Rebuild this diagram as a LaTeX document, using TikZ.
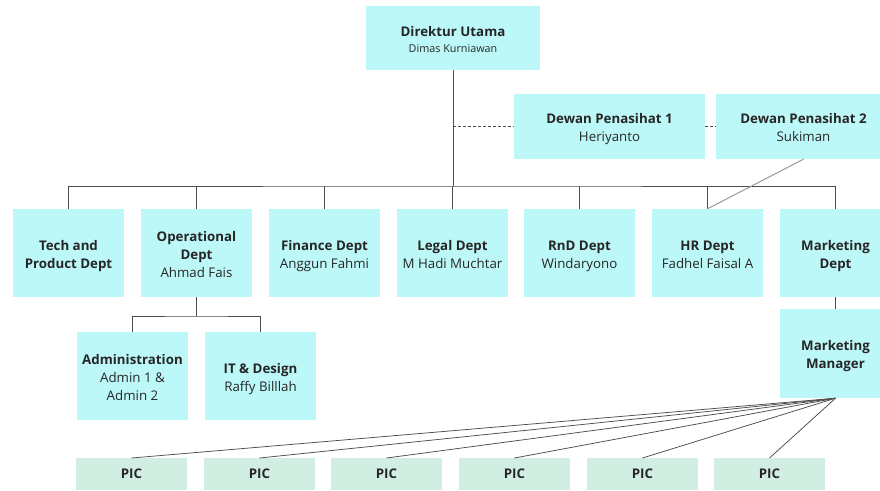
\documentclass[tikz,border=0pt]{standalone}
\usepackage{fontspec}
\setmainfont{Open Sans}
\definecolor{boxcyan}{HTML}{BDF8F8}
\definecolor{picgreen}{HTML}{D2EDE2}
\definecolor{linegray}{HTML}{4D4D4D}
\definecolor{lightline}{HTML}{9A9A9A}
\newcommand{\topstrut}{\rule{0pt}{16pt}}
\newcommand{\botstrut}{\rule[-4pt]{0pt}{8pt}}
\begin{document}
\begin{tikzpicture}[x=1pt,y=-1pt,
  orgbox/.style={fill=boxcyan, inner sep=0pt, align=center, text=black!85,
    font=\fontsize{13.3}{18}\selectfont},
  deptbox/.style={orgbox, minimum width=111pt, minimum height=88pt},
  picbox/.style={fill=picgreen, inner sep=0pt, minimum width=111pt, minimum height=32pt,
    anchor=north, font=\fontsize{13.3}{18}\selectfont\bfseries, text=black!85},
  conn/.style={draw=linegray, line width=1pt},
  thin/.style={draw=linegray, line width=0.75pt},
  dashconn/.style={draw=linegray, line width=1pt, dash pattern=on 3pt off 2pt},
  diag/.style={draw=lightline, line width=1pt}]
\useasboundingbox[fill=white] (0,0) rectangle (880,490);

% top
\node[orgbox, minimum width=174pt, minimum height=64pt] (dir) at (453,38)
  {\topstrut\textbf{Direktur Utama}\\[-2pt]{\fontsize{10.8}{14}\selectfont Dimas Kurniawan\botstrut}};
\node[orgbox, minimum width=191pt, minimum height=65pt] (dp1) at (609.5,126.5)
  {\topstrut\textbf{Dewan Penasihat 1}\\Heriyanto\botstrut};
\node[orgbox, minimum width=175pt, minimum height=65pt] (dp2) at (803.5,126.5)
  {\topstrut\textbf{Dewan Penasihat 2}\\Sukiman\botstrut};

% departments
\node[deptbox] (tech) at (68.5,253) {\topstrut\textbf{Tech and}\\\textbf{Product Dept}\botstrut};
\node[deptbox] (ops) at (196.5,253) {\topstrut\textbf{Operational}\\\textbf{Dept}\\Ahmad Fais\botstrut};
\node[deptbox] (fin) at (324.5,253) {\topstrut\textbf{Finance Dept}\\Anggun Fahmi\botstrut};
\node[deptbox] (leg) at (452.5,253) {\topstrut\textbf{Legal Dept}\\M Hadi Muchtar\botstrut};
\node[deptbox] (rnd) at (579.5,253) {\topstrut\textbf{RnD Dept}\\Windaryono\botstrut};
\node[deptbox] (hr) at (707.5,253) {\topstrut\textbf{HR Dept}\\Fadhel Faisal A\botstrut};
\node[deptbox] (mkt) at (835.5,253) {\topstrut\textbf{Marketing}\\\textbf{Dept}\botstrut};

% second level
\node[deptbox] (adm) at (132.5,376) {\topstrut\textbf{Administration}\\Admin 1 \&\\Admin 2\botstrut};
\node[deptbox] (itd) at (260.5,376) {\topstrut\textbf{IT \& Design}\\Raffy Billlah\botstrut};
\node[deptbox, minimum height=89pt] (mm) at (835.5,353.5) {\topstrut\textbf{Marketing}\\\textbf{Manager}\botstrut};

% PIC
\node[picbox] (p1) at (131.5,458) {PIC};
\node[picbox] (p2) at (259.5,458) {PIC};
\node[picbox] (p3) at (386.5,458) {PIC};
\node[picbox] (p4) at (514.5,458) {PIC};
\node[picbox] (p5) at (642.5,458) {PIC};
\node[picbox] (p6) at (769.5,458) {PIC};

% connectors
\coordinate (bus) at (453,186);
\draw[conn] (dir.south) -- (bus);
\draw[conn] (tech.north) |- (bus) -| (mkt.north);
\foreach \d in {ops,fin,leg,rnd,hr} \draw[conn] (\d.north) -- (\d.north |- bus);
\draw[dashconn] (dir.south |- dp1.west) -- (dp1.west);
\draw[dashconn] (dp1.east) -- (dp2.west);
\draw[diag] (dp2.south) -- (hr.north);

\coordinate (opsbus) at (196.5,316);
\draw[conn] (ops.south) -- (opsbus);
\draw[conn] (adm.north) |- (opsbus) -| (itd.north);

\draw[conn] (mkt.south) -- (mm.north);
\foreach \p in {p1,p2,p3,p4,p5,p6} \draw[thin] (mm.south) -- (\p.north);
\end{tikzpicture}
\end{document}
